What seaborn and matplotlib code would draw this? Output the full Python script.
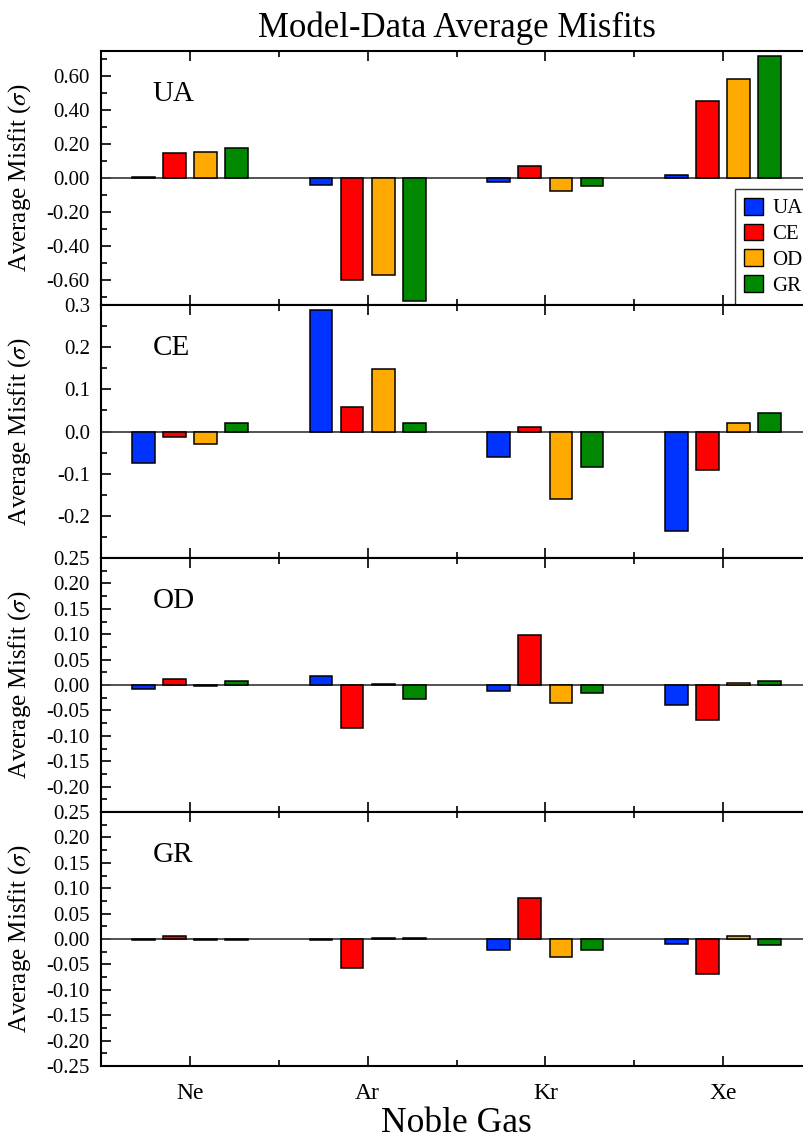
import matplotlib
matplotlib.use('Agg')
import matplotlib.pyplot as plt
import matplotlib.ticker as ticker
from matplotlib.patches import Patch
import numpy as np
import pandas as pd
import seaborn as sns

# ── Datos ────────────────────────────────────────────────────────────────────
gases = ['Ne', 'Ar', 'Kr', 'Xe']
modelos = ['UA', 'CE', 'OD', 'GR']
colores = ['#0033ff', '#ff0000', '#ffaa00', '#008800']

# filas: barras UA, CE, OD, GR ; columnas: Ne, Ar, Kr, Xe
misfit_ua = [[0.005, -0.039, -0.021, 0.020],
             [0.145, -0.604, 0.071, 0.456],
             [0.151, -0.574, -0.075, 0.586],
             [0.176, -0.727, -0.049, 0.723]]
misfit_ce = [[-0.075, 0.288, -0.061, -0.236],
             [-0.013, 0.059, 0.011, -0.092],
             [-0.029, 0.149, -0.161, 0.021],
             [0.021, 0.019, -0.084, 0.045]]
misfit_od = [[-0.007, 0.017, -0.011, -0.039],
             [0.011, -0.085, 0.099, -0.069],
             [-0.001, 0.002, -0.036, 0.004],
             [0.007, -0.028, -0.015, 0.008]]
misfit_gr = [[-0.001, -0.001, -0.021, -0.009],
             [0.005, -0.058, 0.080, -0.068],
             [-0.001, 0.002, -0.035, 0.005],
             [-0.002, 0.001, -0.021, -0.011]]

paneles = ['UA', 'CE', 'OD', 'GR']
datos = [misfit_ua, misfit_ce, misfit_od, misfit_gr]
limites = [0.75, 0.3, 0.25, 0.25]
ticks_y = [[-0.6, -0.4, -0.2, 0.0, 0.2, 0.4, 0.6],
           [-0.2, -0.1, 0.0, 0.1, 0.2, 0.3],
           [-0.2, -0.15, -0.1, -0.05, 0.0, 0.05, 0.1, 0.15, 0.2, 0.25],
           [-0.25, -0.2, -0.15, -0.1, -0.05, 0.0, 0.05, 0.1, 0.15, 0.2, 0.25]]
menores_y = [0.1, 0.05, 0.025, 0.025]
formatos = ['{:.2f}', '{:.1f}', '{:.2f}', '{:.2f}']

# ── Estilo ───────────────────────────────────────────────────────────────────
sns.set_style('ticks')
plt.rcParams['font.family'] = ['Liberation Serif', 'DejaVu Serif']
plt.rcParams['mathtext.fontset'] = 'stix'
plt.rcParams['axes.unicode_minus'] = False
for clave in ['text.color', 'axes.labelcolor', 'xtick.color', 'ytick.color', 'axes.edgecolor']:
    plt.rcParams[clave] = 'black'

fig = plt.figure(figsize=(8.04, 11.39), dpi=100)
H = 1139.0
izq, ancho = 101 / 804, 711 / 804
bordes = [51, 305, 558, 812, 1066]

for i, (nombre, valores) in enumerate(zip(paneles, datos)):
    ax = fig.add_axes([izq, 1 - bordes[i + 1] / H, ancho, (bordes[i + 1] - bordes[i]) / H])
    df = pd.DataFrame([(g, m, valores[j][k]) for j, m in enumerate(modelos)
                       for k, g in enumerate(gases)], columns=['gas', 'modelo', 'misfit'])
    ax.axhline(0, color='#444444', lw=1.3, zorder=1)
    sns.barplot(data=df, x='gas', y='misfit', hue='modelo', order=gases, hue_order=modelos,
                palette=colores, saturation=1, width=0.7, gap=0.27, errorbar=None,
                edgecolor='black', linewidth=1.1, legend=False, ax=ax, zorder=3)
    ax.set_xlim(-0.5, 3.5)
    ax.set_ylim(-limites[i], limites[i])
    ax.yaxis.set_major_locator(ticker.FixedLocator(ticks_y[i]))
    ax.yaxis.set_minor_locator(ticker.MultipleLocator(menores_y[i]))
    fmt = formatos[i]
    ax.yaxis.set_major_formatter(ticker.FuncFormatter(lambda v, p, f=fmt: f.format(v + 0.0)))
    ax.xaxis.set_minor_locator(ticker.FixedLocator([0.5, 1.5, 2.5]))
    ax.tick_params(which='both', direction='in', top=True, right=False, width=1.2)
    ax.tick_params(which='major', length=7)
    ax.tick_params(which='minor', length=4)
    ax.tick_params(axis='y', labelsize=15, pad=8)
    ax.tick_params(axis='x', labelsize=17, pad=12)
    for s in ax.spines.values():
        s.set_linewidth(1.5)
        s.set_color('black')
    ax.set_ylabel('Average Misfit ($\\sigma$)', fontsize=18)
    ax.yaxis.set_label_coords(-0.096, 0.5)
    ax.set_xlabel('')
    ax.text(0.073, 0.83, nombre, transform=ax.transAxes, fontsize=21, va='center')
    if i < 3:
        ax.tick_params(axis='x', labelbottom=False)
    if i == 0:
        handles = [Patch(facecolor=c, edgecolor='black', linewidth=1, label=m)
                   for m, c in zip(modelos, colores)]
        leg = ax.legend(handles=handles, loc='lower right', bbox_to_anchor=(1.0, 0.0),
                        borderaxespad=0, frameon=True, fancybox=False, edgecolor='#333333',
                        fontsize=15, handlelength=0.9, handleheight=0.85, labelspacing=0.25,
                        handletextpad=0.45, borderpad=0.45)
        leg.get_frame().set_linewidth(1.0)
        leg.get_frame().set_alpha(1)

fig.text(0.568, 1 - 28 / H, 'Model-Data Average Misfits', ha='center', va='center', fontsize=25)
fig.text(0.568, 1 - 1123 / H, 'Noble Gas', ha='center', va='center', fontsize=25.5)

fig.savefig('out.png', dpi=100)
